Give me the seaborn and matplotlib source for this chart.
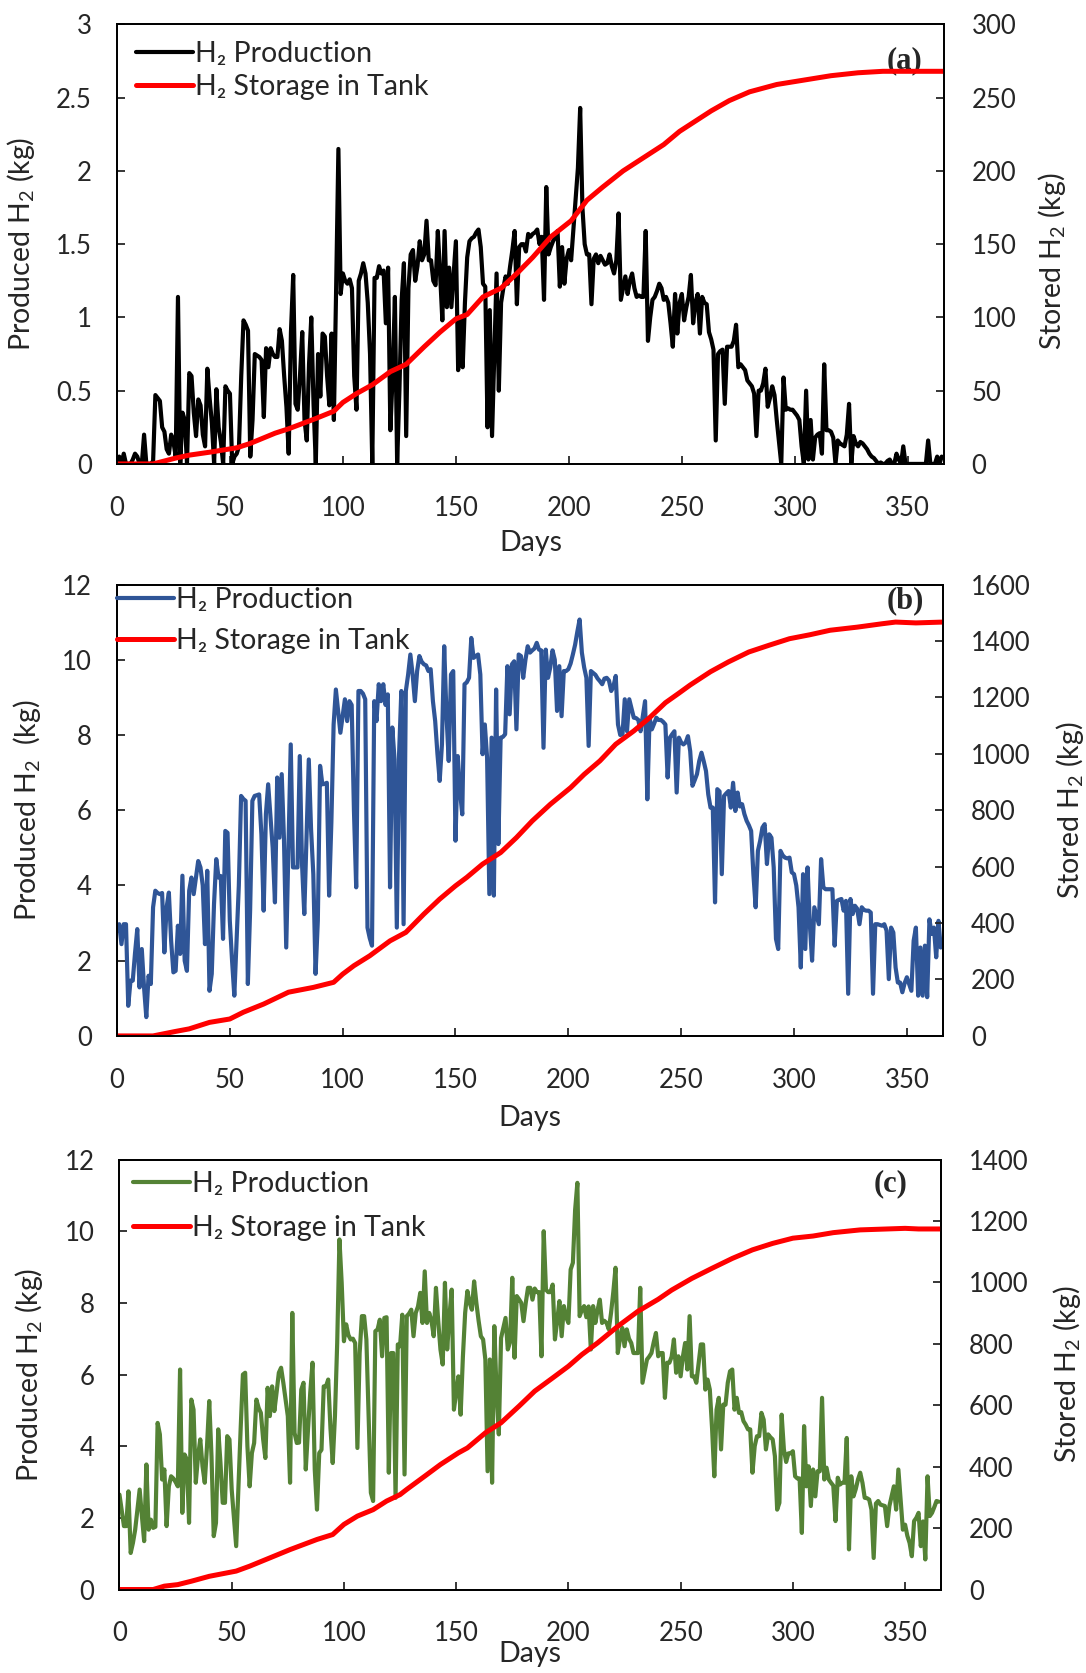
import numpy as np
import pandas as pd
import seaborn as sns
import matplotlib
matplotlib.use("Agg")
import matplotlib.pyplot as plt
from matplotlib.ticker import MultipleLocator, FuncFormatter

# daily H2 production (kg), days 0..365
prod_a = [
    0.02, 0.05, 0.0, 0.07, 0.0, 0.0, 0.0, 0.03, 0.07, 0.05,
    0.0, 0.0, 0.2, 0.0, 0.0, 0.0, 0.02, 0.47, 0.45, 0.43,
    0.25, 0.22, 0.1, 0.07, 0.2, 0.15, 0.05, 1.14, 0.0, 0.35,
    0.3, 0.0, 0.62, 0.6, 0.35, 0.19, 0.44, 0.4, 0.2, 0.12,
    0.65, 0.45, 0.28, 0.0, 0.51, 0.25, 0.15, 0.0, 0.53, 0.5,
    0.48, 0.0, 0.05, 0.07, 0.12, 0.6, 0.98, 0.95, 0.91, 0.05,
    0.3, 0.75, 0.74, 0.73, 0.71, 0.32, 0.79, 0.66, 0.79, 0.75,
    0.73, 0.73, 0.92, 0.84, 0.6, 0.39, 0.07, 0.9, 1.29, 0.41,
    0.37, 0.6, 0.9, 0.3, 0.16, 0.68, 1.0, 0.41, 0.0, 0.75,
    0.46, 0.89, 0.87, 0.6, 0.4, 0.89, 0.3, 1.2, 2.15, 1.16,
    1.3, 1.25, 1.23, 1.26, 1.2, 0.6, 0.37, 1.25, 1.3, 1.37,
    1.3, 1.1, 0.75, 0.0, 1.27, 1.27, 1.35, 1.3, 1.32, 0.96,
    1.34, 0.23, 0.6, 1.14, 0.0, 0.5, 1.12, 1.37, 0.19, 1.2,
    1.43, 1.46, 1.25, 1.35, 1.52, 1.39, 1.43, 1.66, 1.39, 1.39,
    1.25, 1.22, 1.59, 1.3, 0.98, 1.59, 1.07, 1.34, 1.07, 1.3,
    1.52, 0.64, 1.0, 0.66, 1.1, 1.41, 1.52, 1.54, 1.55, 1.58,
    1.6, 1.48, 1.23, 1.21, 0.25, 1.05, 0.19, 0.75, 1.3, 0.5,
    1.1, 1.2, 1.28, 1.23, 1.35, 1.46, 1.59, 1.09, 1.48, 1.5,
    1.5, 1.45, 1.57, 1.55, 1.57, 1.58, 1.6, 1.5, 1.55, 1.12,
    1.89, 1.43, 1.48, 1.52, 1.55, 1.59, 1.21, 1.48, 1.23, 1.4,
    1.46, 1.39, 1.6, 1.8, 2.02, 2.43, 1.75, 1.5, 1.43, 1.43,
    1.09, 1.4, 1.43, 1.37, 1.42, 1.39, 1.36, 1.37, 1.43, 1.35,
    1.3, 1.39, 1.71, 1.12, 1.2, 1.28, 1.16, 1.25, 1.3, 1.2,
    1.14, 1.15, 1.14, 1.14, 1.59, 0.84, 1.0, 1.12, 1.14, 1.18,
    1.23, 1.2, 1.12, 1.14, 1.1, 0.96, 0.8, 1.16, 0.89, 1.1,
    1.16, 0.98, 1.07, 1.14, 1.29, 0.96, 1.1, 1.16, 0.89, 1.14,
    1.1, 1.09, 0.9, 0.85, 0.78, 0.16, 0.75, 0.77, 0.78, 0.41,
    0.8, 0.8, 0.8, 0.84, 0.95, 0.66, 0.68, 0.66, 0.64, 0.57,
    0.55, 0.53, 0.48, 0.19, 0.5, 0.5, 0.55, 0.65, 0.39, 0.45,
    0.53, 0.47, 0.3, 0.15, 0.0, 0.59, 0.37, 0.38, 0.37, 0.37,
    0.35, 0.33, 0.3, 0.12, 0.0, 0.5, 0.03, 0.3, 0.03, 0.18,
    0.2, 0.21, 0.07, 0.68, 0.23, 0.23, 0.22, 0.18, 0.0, 0.16,
    0.14, 0.13, 0.12, 0.2, 0.41, 0.0, 0.19, 0.14, 0.12, 0.15,
    0.14, 0.12, 0.1, 0.07, 0.05, 0.04, 0.02, 0.0, 0.01, 0.0,
    0.0, 0.02, 0.03, 0.0, 0.0, 0.07, 0.03, 0.0, 0.12, 0.0,
    0.0, 0.0, 0.0, 0.0, 0.0, 0.0, 0.0, 0.0, 0.0, 0.16,
    0.0, 0.0, 0.0, 0.05, 0.0, 0.05,
]

prod_b = [
    2.8, 2.97, 2.44, 2.97, 2.97, 0.8, 1.47, 1.47, 2.2, 2.84,
    1.29, 2.31, 1.29, 0.5, 1.6, 1.38, 3.42, 3.86, 3.8, 3.77,
    3.8, 2.22, 3.42, 3.81, 2.53, 1.69, 1.73, 2.93, 2.18, 4.26,
    2.0, 1.73, 3.86, 4.21, 3.77, 4.2, 4.65, 4.48, 4.0, 2.44,
    4.39, 1.2, 1.65, 3.5, 4.7, 4.21, 4.25, 2.58, 5.45, 5.4,
    3.06, 2.0, 1.07, 2.53, 4.0, 6.38, 6.3, 6.25, 1.38, 3.33,
    6.25, 6.38, 6.4, 6.42, 5.36, 3.33, 5.9, 6.69, 5.85, 5.0,
    3.55, 6.87, 5.27, 6.96, 5.23, 2.35, 5.0, 7.75, 4.48, 4.48,
    4.48, 7.44, 4.57, 3.24, 5.32, 7.35, 5.5, 4.3, 1.65, 3.06,
    7.18, 6.69, 6.7, 6.73, 3.73, 5.67, 8.28, 9.21, 8.64, 8.06,
    8.5, 8.95, 8.37, 8.9, 8.8, 6.0, 3.95, 9.17, 9.17, 9.1,
    8.95, 2.88, 2.6, 2.4, 8.9, 8.37, 9.35, 8.9, 9.35, 8.8,
    9.08, 3.95, 8.2, 7.35, 2.88, 7.49, 9.17, 2.97, 9.17, 9.6,
    10.14, 9.61, 8.9, 9.7, 10.1, 9.95, 9.88, 9.85, 9.7, 9.75,
    8.9, 8.37, 7.5, 6.78, 7.75, 10.36, 8.55, 7.31, 9.61, 9.7,
    5.19, 7.44, 6.5, 5.89, 9.35, 9.4, 9.52, 10.58, 10.05, 10.1,
    10.14, 9.61, 7.49, 8.28, 7.4, 3.77, 7.93, 3.73, 9.21, 5.1,
    7.93, 7.95, 8.02, 9.83, 8.55, 9.88, 9.96, 8.15, 10.14, 10.1,
    9.52, 10.0, 10.36, 10.19, 10.25, 10.3, 10.45, 10.27, 10.25, 7.66,
    10.27, 9.52, 9.8, 10.25, 10.0, 8.64, 9.83, 8.5, 9.7, 9.7,
    9.75, 9.9, 10.14, 10.4, 10.75, 11.07, 10.19, 9.8, 9.52, 7.71,
    9.7, 9.65, 9.6, 9.5, 9.43, 9.35, 9.5, 9.52, 9.45, 9.17,
    9.3, 9.57, 8.28, 8.0, 8.02, 8.95, 8.1, 8.95, 8.7, 8.46,
    8.45, 8.4, 8.1, 8.5, 8.9, 6.29, 8.46, 8.15, 8.3, 8.46,
    8.4, 8.4, 8.35, 8.28, 6.87, 7.93, 8.02, 8.1, 6.47, 7.93,
    7.8, 7.75, 7.8, 7.97, 7.57, 6.65, 6.8, 6.96, 7.31, 7.53,
    7.3, 7.04, 6.42, 6.07, 6.07, 3.55, 6.56, 6.5, 4.3, 6.38,
    6.45, 6.51, 6.07, 6.73, 5.98, 6.47, 6.1, 6.16, 5.9, 5.72,
    5.6, 5.45, 4.3, 3.42, 4.92, 5.19, 5.54, 5.63, 4.57, 5.36,
    5.27, 4.48, 2.58, 2.31, 4.92, 4.8, 4.74, 4.72, 4.74, 4.35,
    4.3, 4.0, 3.42, 1.82, 4.3, 2.31, 4.48, 2.97, 2.0, 3.42,
    3.2, 2.97, 4.7, 3.95, 3.9, 3.9, 3.9, 3.9, 2.4, 3.59,
    3.62, 3.64, 3.33, 3.59, 1.12, 3.64, 3.24, 3.46, 3.38, 2.97,
    3.42, 3.35, 3.33, 3.33, 3.28, 1.12, 2.97, 2.97, 2.95, 2.93,
    2.97, 2.8, 1.51, 2.88, 2.75, 1.82, 1.42, 1.42, 1.16, 1.4,
    1.56, 1.38, 1.2, 2.53, 2.88, 1.07, 2.35, 1.07, 2.4, 1.03,
    3.1, 2.71, 2.88, 2.09, 3.06, 2.35,
]

prod_c = [
    2.65, 2.2, 1.77, 1.77, 2.74, 1.02, 1.3, 1.67, 2.23, 2.79,
    2.05, 1.35, 3.49, 1.67, 1.95, 1.72, 1.75, 4.65, 4.33, 3.07,
    3.35, 1.77, 2.88, 3.16, 3.1, 3.0, 2.88, 6.14, 2.14, 3.77,
    3.63, 1.86, 5.3, 5.02, 2.98, 3.72, 4.19, 3.44, 2.98, 4.0,
    5.26, 3.72, 1.49, 1.86, 4.47, 3.53, 2.42, 2.42, 4.28, 4.19,
    2.79, 2.0, 1.21, 2.88, 4.5, 6.0, 6.05, 4.0, 2.88, 3.81,
    4.09, 5.3, 5.07, 4.93, 4.2, 3.67, 5.63, 4.84, 5.67, 4.98,
    5.5, 6.05, 6.19, 5.77, 5.3, 4.84, 2.98, 7.72, 4.37, 4.09,
    4.1, 5.58, 5.77, 3.35, 4.47, 5.5, 6.33, 3.35, 2.23, 3.81,
    3.9, 5.67, 5.67, 5.86, 4.5, 3.53, 4.84, 6.88, 9.77, 8.56,
    6.93, 7.4, 7.1, 6.98, 7.0, 6.88, 3.95, 6.6, 7.63, 7.63,
    6.98, 4.8, 2.7, 2.47, 7.21, 7.26, 7.53, 6.51, 7.58, 7.6,
    3.26, 6.6, 6.6, 2.56, 6.84, 6.79, 7.67, 3.21, 7.63, 7.7,
    7.81, 7.07, 7.72, 7.9, 8.28, 7.44, 8.88, 7.44, 7.72, 7.5,
    7.07, 8.42, 7.5, 6.7, 6.28, 8.56, 6.7, 7.63, 8.37, 5.02,
    5.5, 5.95, 4.88, 6.5, 7.72, 8.33, 8.0, 7.81, 8.6, 8.0,
    7.5, 7.07, 6.98, 6.42, 3.3, 6.42, 2.98, 7.35, 5.5, 4.33,
    7.02, 7.3, 7.58, 6.7, 6.9, 8.7, 6.47, 8.19, 8.1, 8.0,
    7.49, 8.0, 8.42, 8.42, 8.09, 8.4, 8.3, 8.3, 6.51, 10.0,
    8.37, 8.3, 8.3, 8.51, 6.98, 7.5, 8.05, 7.07, 7.91, 7.6,
    7.44, 8.93, 9.12, 10.6, 11.35, 7.63, 7.8, 7.91, 7.6, 7.9,
    6.7, 7.91, 7.44, 7.8, 8.09, 7.44, 7.5, 7.44, 7.26, 7.72,
    8.3, 8.98, 6.6, 7.0, 7.3, 6.79, 7.26, 7.0, 6.88, 6.6,
    6.6, 6.6, 8.42, 5.77, 6.1, 6.42, 6.5, 6.6, 6.9, 7.16,
    6.51, 6.6, 6.6, 5.35, 6.33, 6.33, 6.5, 6.98, 6.05, 6.51,
    5.95, 6.5, 6.88, 6.14, 7.63, 5.95, 5.95, 5.77, 6.3, 6.84,
    6.84, 5.58, 5.86, 5.58, 4.5, 3.16, 5.02, 5.35, 3.91, 5.16,
    5.16, 5.77, 6.09, 6.14, 5.02, 5.35, 4.93, 4.95, 4.7, 4.6,
    4.47, 4.47, 3.26, 4.0, 4.28, 4.28, 4.93, 4.74, 3.91, 4.33,
    4.25, 4.19, 3.72, 2.23, 2.42, 4.88, 3.91, 3.56, 3.8, 3.8,
    3.86, 3.16, 3.1, 3.1, 1.58, 4.56, 2.88, 3.44, 2.33, 3.35,
    2.6, 3.3, 3.3, 5.35, 3.07, 3.4, 3.07, 2.98, 2.9, 1.91,
    3.12, 2.93, 2.98, 2.98, 4.23, 1.12, 3.16, 2.6, 2.8, 3.07,
    3.26, 2.98, 2.56, 2.55, 2.51, 2.23, 0.88, 2.4, 2.47, 2.37,
    2.35, 2.33, 1.77, 2.33, 2.6, 2.88, 2.23, 3.35, 2.5, 1.67,
    1.81, 1.5, 1.3, 0.93, 1.91, 2.0, 2.14, 1.21, 1.9, 0.84,
    3.16, 2.05, 2.14, 2.3, 2.47, 2.45,
]

days = np.arange(len(prod_a))

# H2 stored in the tank (kg), read at selected days
store_days_a = [0, 16, 26, 32, 41, 53, 59, 70, 76, 88, 96, 100, 106, 113, 121, 128,
                136, 143, 150, 155, 162, 170, 177, 184, 192, 201, 208, 215, 224,
                235, 242, 249, 254, 263, 271, 280, 292, 304, 316, 328, 339, 354, 366]
store_a = [0, 0, 4, 6, 8, 11, 14, 21, 24, 31, 36, 42, 48, 54, 63, 68, 80, 90, 99,
           102, 114, 120, 130, 141, 155, 166, 180, 189, 200, 211, 218, 227, 232,
           241, 248, 254, 259, 262, 265, 267, 268, 268, 268]

store_days_b = [0, 16, 26, 32, 41, 50, 56, 65, 76, 87, 96, 100, 105, 112, 121, 128,
                136, 143, 150, 155, 162, 170, 177, 184, 192, 201, 207, 214, 221,
                229, 236, 243, 249, 254, 263, 271, 280, 289, 298, 307, 316, 328,
                339, 345, 354, 366]
store_b = [0, 0, 16, 25, 48, 60, 84, 113, 155, 172, 190, 219, 249, 284, 337, 367,
           432, 485, 532, 562, 609, 650, 703, 762, 821, 880, 927, 975, 1034, 1081,
           1128, 1181, 1215, 1244, 1291, 1326, 1361, 1385, 1408, 1422, 1438, 1449,
           1461, 1467, 1464, 1467]

store_days_c = [0, 15, 20, 26, 32, 40, 52, 58, 67, 76, 88, 95, 100, 106, 113, 119,
                125, 128, 136, 143, 151, 155, 163, 170, 178, 185, 193, 200, 206,
                213, 222, 231, 240, 246, 255, 264, 273, 282, 291, 300, 309, 318,
                330, 342, 350, 356, 366]
store_c = [0, 0, 11, 16, 27, 43, 60, 76, 103, 130, 163, 179, 212, 239, 260, 288,
           309, 326, 369, 407, 445, 461, 510, 543, 597, 646, 689, 727, 765, 803,
           857, 906, 945, 975, 1013, 1046, 1078, 1106, 1127, 1144, 1151, 1162,
           1171, 1174, 1176, 1174, 1174]

sns.set_style("ticks")
plt.rcParams["font.family"] = ["Lato", "DejaVu Sans"]
plt.rcParams["mathtext.fontset"] = "custom"
plt.rcParams["mathtext.rm"] = "Lato"
plt.rcParams["mathtext.it"] = "Lato:italic"
plt.rcParams["mathtext.bf"] = "Lato:bold"

TICK_FS = 18.5
LAB_FS = 20.5
fmt = FuncFormatter(lambda v, p: f"{v:g}")

fig = plt.figure(figsize=(10.86, 16.73), dpi=100)

panels = [
    dict(rect=[0.1077, 0.7227, 0.7615, 0.2627], prod=prod_a, color="black",
         lmax=3, lstep=0.5, sdays=store_days_a, store=store_a, rmax=300, rstep=50,
         tag="(a)", tagpos=(0.952, 0.918), ylab="Produced H$_2$ (kg)",
         lx=-0.097, rx=1.111, ry=0.46, dy=-0.150, leg=(0.023, 0.962), lsp=0.25),
    dict(rect=[0.1077, 0.3808, 0.7606, 0.2698], prod=prod_b, color="#2F5597",
         lmax=12, lstep=2, sdays=store_days_b, store=store_b, rmax=1600, rstep=200,
         tag="(b)", tagpos=(0.955, 0.965), ylab="Produced H$_2$  (kg)",
         lx=-0.0896, rx=1.134, ry=0.5, dy=-0.153, leg=(0.0, 0.994), lsp=0.52),
    dict(rect=[0.110, 0.0499, 0.7565, 0.257], prod=prod_c, color="#548235",
         lmax=12, lstep=2, sdays=store_days_c, store=store_c, rmax=1400, rstep=200,
         tag="(c)", tagpos=(0.938, 0.943), ylab="Produced H$_2$ (kg)",
         lx=-0.0907, rx=1.134, ry=0.5, dy=-0.120, leg=(0.017, 0.974), lsp=0.63),
]

for p in panels:
    ax = fig.add_axes(p["rect"])
    ax2 = ax.twinx()

    sns.lineplot(x=days, y=p["prod"], ax=ax, color=p["color"], linewidth=3.0,
                 estimator=None, label="H\u2082 Production", legend=False)
    sns.lineplot(x=p["sdays"], y=p["store"], ax=ax2, color="#FF0000", linewidth=3.6,
                 estimator=None, label="H\u2082 Storage in Tank", legend=False)

    ax.set_xlim(0, 366)
    ax.set_ylim(0, p["lmax"])
    ax2.set_ylim(0, p["rmax"])
    ax.xaxis.set_major_locator(MultipleLocator(50))
    ax.yaxis.set_major_locator(MultipleLocator(p["lstep"]))
    ax2.yaxis.set_major_locator(MultipleLocator(p["rstep"]))
    ax.yaxis.set_major_formatter(fmt)
    ax2.yaxis.set_major_formatter(fmt)

    ax.tick_params(axis="y", direction="in", length=6, width=1.3,
                   labelsize=TICK_FS, pad=18, right=False)
    ax.tick_params(axis="x", direction="in", length=6, width=1.3,
                   labelsize=TICK_FS, pad=23, top=False)
    ax2.tick_params(axis="y", direction="in", length=6, width=1.3,
                    labelsize=TICK_FS, pad=20)
    for a in (ax, ax2):
        for s in a.spines.values():
            s.set_linewidth(1.3)
            s.set_color("black")

    ax.set_xlabel("Days", fontsize=LAB_FS)
    ax.set_ylabel(p["ylab"], fontsize=LAB_FS)
    ax2.set_ylabel("Stored H$_2$ (kg)", fontsize=LAB_FS)
    ax.xaxis.set_label_coords(0.5, p["dy"])
    ax.yaxis.set_label_coords(p["lx"], 0.5)
    ax2.yaxis.set_label_coords(p["rx"], p["ry"])

    handles = [ax.lines[0], ax2.lines[0]]
    ax2.legend(handles, [h.get_label() for h in handles], loc="upper left",
               bbox_to_anchor=p["leg"], frameon=False, fontsize=LAB_FS,
               handlelength=2.0, handletextpad=0.07, labelspacing=p["lsp"],
               borderpad=0, borderaxespad=0)

    ax.text(p["tagpos"][0], p["tagpos"][1], p["tag"], transform=ax.transAxes,
            ha="center", va="center", fontsize=22, fontweight="bold",
            family="Liberation Serif")

fig.savefig("out.png", dpi=100)
